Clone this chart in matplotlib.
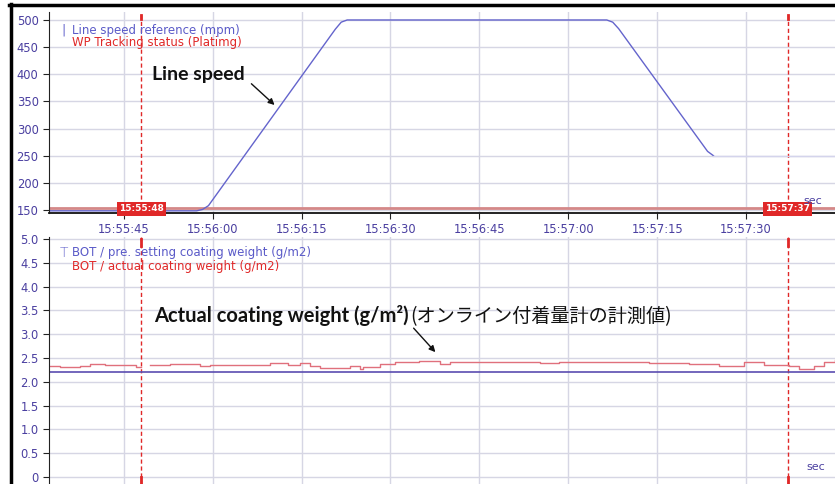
import numpy as np
import matplotlib.pyplot as plt
from matplotlib.lines import Line2D

# time axis: seconds after 15:55:00
x_range = (32.4, 165.0)
time_ticks = [45, 60, 75, 90, 105, 120, 135, 150]
time_labels = ["15:55:45", "15:56:00", "15:56:15", "15:56:30",
               "15:56:45", "15:57:00", "15:57:15", "15:57:30"]

# line speed reference (mpm)
speed_t = [32.4, 57.3, 58.3, 59.3, 80.7, 81.7, 82.7, 126.5, 127.5, 128.5, 143.5, 144.5, 165.0]
speed_v = [148.5, 148.5, 151, 158, 483, 496, 500, 500, 496, 484, 258, 250, 250]
tracking_t = [32.4, 165.0]
tracking_v = [154, 154]

# coating weight (g/m2)
setting_t = [32.4, 165.0]
setting_v = [2.2, 2.2]
coat_t = [32.4, 34.2, 37.6, 39.3, 41.8, 47.0, 48.0, 49.4, 52.8, 57.8, 59.5, 62.9, 69.6,
          72.7, 74.7, 76.4, 78.1, 83.1, 84.8, 85.3, 88.2, 90.7, 94.9, 98.3, 100.0, 105.0,
          115.2, 118.5, 120.2, 125.3, 133.7, 140.4, 145.5, 149.7, 153.1, 157.3, 159.0,
          161.5, 163.2, 165.0]
coat_act = [2.34, 2.32, 2.33, 2.37, 2.35, 2.32, np.nan, 2.36, 2.37, 2.33, 2.35, 2.36, 2.39,
            2.36, 2.39, 2.33, 2.30, 2.33, 2.27, 2.31, 2.37, 2.42, 2.44, 2.37, 2.41, 2.42,
            2.39, 2.42, 2.41, 2.41, 2.39, 2.37, 2.34, 2.41, 2.35, 2.33, 2.27, 2.34,
            2.41, 2.46]

cursor_t = [48, 157]
cursor_labels = ["15:55:48", "15:57:37"]

speed_ticks = [150, 200, 250, 300, 350, 400, 450, 500]
coat_ticks = [0, 0.5, 1.0, 1.5, 2.0, 2.5, 3.0, 3.5, 4.0, 4.5, 5.0]

TICK_C = "#4a3fa0"
GRID_C = "#d6d6e4"
BLUE = "#6464cc"
RED = "#e02828"

plt.rcParams['font.family'] = ['DejaVu Sans', 'Noto Sans CJK JP']

W, H = 835, 484
fig = plt.figure(figsize=(W / 100, H / 100), dpi=100)


def px_axes(left, top, right, bottom):
    return fig.add_axes([left / W, 1 - bottom / H, (right - left) / W, (bottom - top) / H])


ax1 = px_axes(49, 12, 835, 213)
ax2 = px_axes(49, 237, 835, 484)

for ax in (ax1, ax2):
    ax.set_xlim(*x_range)
    ax.set_xticks(time_ticks)
    ax.grid(True, color=GRID_C, lw=1)
    ax.set_axisbelow(True)
    for s in ("top", "right"):
        ax.spines[s].set_visible(False)
    ax.spines["left"].set_color("#222222")
    ax.tick_params(axis="y", colors="#222222", labelcolor=TICK_C, labelsize=8.3, length=4)
    for t in cursor_t:
        ax.axvline(t, color=RED, lw=1, ls=(0, (3, 2)))

# top panel
ax1.set_ylim(144.5, 514.7)
ax1.set_yticks(speed_ticks)
ax1.set_xticklabels(time_labels)
ax1.tick_params(axis="x", colors="#222222", labelcolor=TICK_C, labelsize=8.3, length=4)
ax1.spines["bottom"].set_color("#111111")
ax1.spines["bottom"].set_linewidth(1.3)

ax1.plot(tracking_t, tracking_v, color="#d48888", lw=2)
st = np.array(speed_t)
sv = np.array(speed_v)
main = st <= 144.5
ax1.plot(st[main], sv[main], color=BLUE, lw=1)
ax1.plot(st[st >= 144.5], sv[st >= 144.5], color="#d4d4ec", lw=1)

for t, lab in zip(cursor_t, cursor_labels):
    ax1.axvline(t, ymin=0.965, ymax=0.985, color=RED, lw=2)
    ax1.text(t, 0.02, lab, transform=ax1.get_xaxis_transform(), ha="center", va="center",
             color="white", fontsize=6.5, fontweight="bold",
             bbox=dict(boxstyle="square,pad=0.25", fc=RED, ec="none"))

ax1.text(0.016, 0.91, "|", transform=ax1.transAxes, color=BLUE, fontsize=9, va="center")
ax1.text(0.029, 0.91, "Line speed reference (mpm)", transform=ax1.transAxes,
         color="#5a5ac8", fontsize=8.5, va="center")
ax1.text(0.029, 0.846, "WP Tracking status (Platimg)", transform=ax1.transAxes,
         color=RED, fontsize=8.5, va="center")
ax1.text(0.972, 0.06, "sec", transform=ax1.transAxes, color=TICK_C, fontsize=8,
         ha="center", va="center")
ax1.text(49.7, 389.5, "Line speed", family="Lato", fontweight="bold", fontsize=14,
         color="#111111", va="baseline")
ax1.annotate("", xy=(70.8, 340), xytext=(66.2, 386),
             arrowprops=dict(arrowstyle="-|>", color="#111111", lw=1, mutation_scale=9))

# bottom panel
ax2.set_ylim(-0.147, 5.042)
ax2.set_yticks(coat_ticks)
ax2.set_yticklabels(["0" if v == 0 else f"{v:.1f}" for v in coat_ticks])
ax2.spines["bottom"].set_visible(False)
ax2.tick_params(axis="x", length=0, labelbottom=False)

ax2.plot(setting_t, setting_v, color="#5b4db0", lw=1.2)
ax2.step(coat_t, coat_act, where="post", color="#e0707c", lw=1)

for t in cursor_t:
    ax2.axvline(t, ymin=0.965, ymax=0.99, color=RED, lw=2)
    ax2.axvline(t, ymin=0.0, ymax=0.03, color=RED, lw=2)

ax2.text(0.014, 0.935, "T", transform=ax2.transAxes, color=BLUE, fontsize=10,
         va="center", fontweight="light")
ax2.text(0.029, 0.937, "BOT / pre. setting coating weight (g/m2)", transform=ax2.transAxes,
         color="#5a5ac8", fontsize=8.5, va="center")
ax2.text(0.029, 0.881, "BOT / actual coating weight (g/m2)", transform=ax2.transAxes,
         color=RED, fontsize=8.5, va="center")
ax2.text(0.975, 0.069, "sec", transform=ax2.transAxes, color=TICK_C, fontsize=8,
         ha="center", va="center")
ax2.text(50.2, 3.26, "Actual coating weight (g/m\u00b2)", family="Lato", fontweight="bold",
         fontsize=14.5, color="#111111", va="baseline")
ax2.text(93.4, 3.26, "(オンライン付着量計の計測値)", family=["Noto Sans CJK JP", "DejaVu Sans"],
         fontsize=13.8, color="#111111", va="baseline")
ax2.annotate("", xy=(97.9, 2.58), xytext=(93.6, 3.17),
             arrowprops=dict(arrowstyle="-|>", color="#111111", lw=1, mutation_scale=9))

# black frame at left and top
fig.add_artist(Line2D([10.5 / W, 10.5 / W], [0, 1 - 4 / H], transform=fig.transFigure,
                      color="black", lw=2.5))
fig.add_artist(Line2D([9 / W, 1], [1 - 5 / H, 1 - 5 / H], transform=fig.transFigure,
                      color="black", lw=2.5))

fig.savefig("out.png", dpi=100)
